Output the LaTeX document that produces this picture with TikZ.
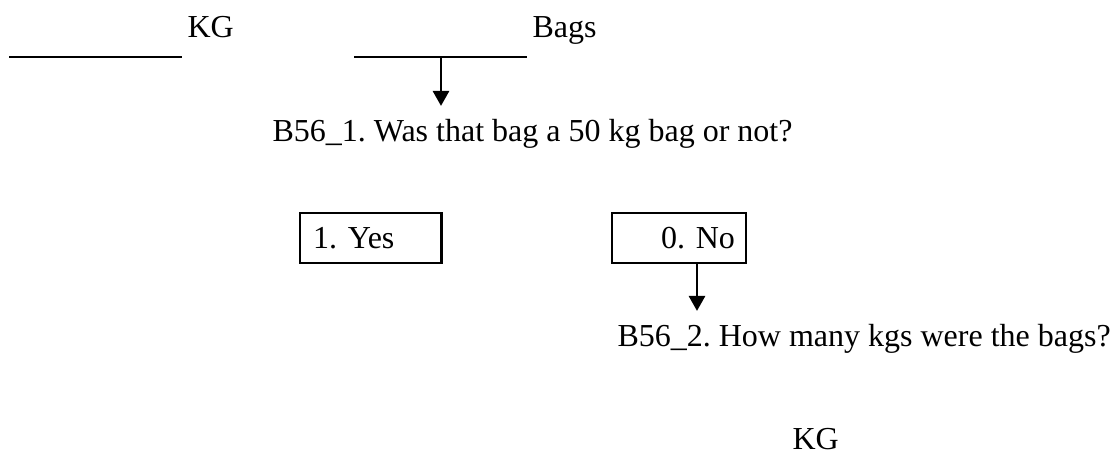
\documentclass[tikz,border=0pt]{standalone}
\usepackage{fontspec}
\setmainfont{Liberation Serif}
\usepackage{tikz}
\usetikzlibrary{arrows.meta,positioning}
\frenchspacing

\tikzset{
  txt/.style={anchor=base west,inner sep=0pt,font=\fontsize{12}{14}\selectfont},
  blank/.style={line width=1.1pt},
  answer/.style={draw,line width=1.1pt,minimum height=18.75pt,inner sep=0pt,font=\fontsize{12}{14}\selectfont},
  flow/.style={line width=1pt,-{Triangle[length=5.6pt,width=6pt]}}
}

\begin{document}
\begin{tikzpicture}[x=0.375pt,y=-0.375pt]
\useasboundingbox (0,0) rectangle (1113,468);

% blanks to fill in
\coordinate (kgL) at (9,57);
\coordinate (kgR) at (182,57);
\draw[blank] (kgL) -- (kgR);
\node[txt] (kgtop) at (187,38) {KG};

\coordinate (bagsL) at (354,57);
\coordinate (bagsR) at (527,57);
\draw[blank] (bagsL) -- (bagsR);
\node[txt] (bags) at (532,38) {Bags};

% first question
\node[txt] (q1) at (272,142) {B56\_1. Was that bag a 50 kg bag or not?};
\coordinate (split) at (441,57);
\draw[flow,shorten >=5pt] (split) -- (split |- q1.north);

% answers
\node[answer,minimum width=52.9pt,text width=43pt,align=left] (yes) at (370.5,238) {1. Yes};
\node[answer,minimum width=50.25pt,text width=42pt,align=right] (no) at (679,238) {0. No};

% second question
\node[txt] (q2) at (617,347) {B56\_2. How many kgs were the bags?};
\coordinate (noout) at ([xshift=6.75pt]no.south);
\draw[flow,shorten >=5pt] (noout) -- (noout |- q2.north);

\node[txt] (kgbot) at (792,450) {KG};

\end{tikzpicture}
\end{document}
